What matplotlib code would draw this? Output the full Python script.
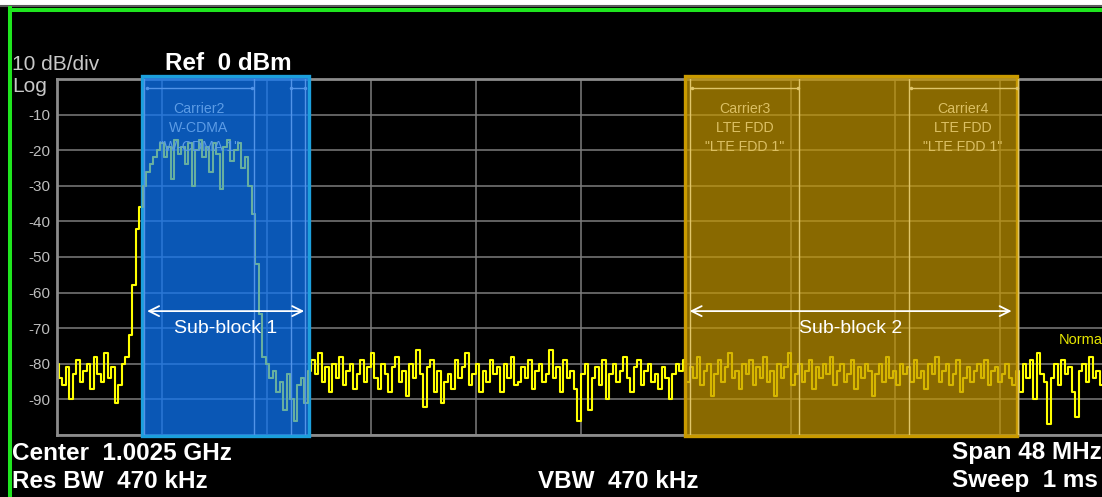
import numpy as np
import matplotlib.pyplot as plt
from matplotlib.patches import Rectangle
from matplotlib.lines import Line2D

plt.rcParams['font.family'] = ['Liberation Sans', 'DejaVu Sans']

# analyzer settings
center_mhz = 1002.5
span_mhz = 48.0
ref_level = 0
ytick_labels = ['-10', '-20', '-30', '-40', '-50', '-60', '-70', '-80', '-90']

# trace (dBm), 300 points over the span
floor_left = [-80, -84, -86, -81, -90, -83, -79, -85, -82, -80,
              -87, -78, -83, -85, -77, -84, -81, -91, -86, -80]
wcdma_rise = [-78, -72, -58, -42]
wcdma_top = [-36, -30, -26, -24, -22, -20, -18, -22, -19, -28,
             -17, -21, -19, -24, -18, -30, -20, -17, -22, -19,
             -26, -18, -21, -31, -19, -17, -23, -20, -18, -25,
             -22, -30]
wcdma_fall = [-38, -52, -66, -78]
floor_right = [-80, -84, -82, -88, -85, -93, -83, -90, -96, -86, -84, -91, -82,
               -79, -83, -77, -85, -81, -88, -80, -84, -78, -86,
               -82, -80, -87, -83, -79, -85, -81, -77, -84, -87,
               -80, -83, -88, -81, -78, -85, -82, -89, -80, -84,
               -76, -83, -92, -81, -79, -88, -82, -91, -85, -83,
               -87, -79, -84, -81, -77, -86, -83, -80, -88, -82,
               -85, -79, -83, -81, -88, -80, -84, -78, -86, -85,
               -81, -84, -79, -87, -82, -80, -85, -83, -76, -84,
               -81, -88, -79, -84, -82, -87, -96, -83, -80, -93,
               -84, -81, -86, -79, -90, -83, -80, -85, -82, -78,
               -84, -88, -81, -79, -86, -82, -80, -85, -83, -87,
               -81, -84, -90, -83, -80, -82, -79, -85, -81, -84,
               -78, -86, -82, -80, -89, -83, -79, -85, -81, -77,
               -84, -82, -87, -80, -83, -79, -86, -81, -84, -78,
               -85, -82, -89, -80, -84, -81, -77, -86, -83, -80,
               -85, -82, -79, -87, -81, -84, -80, -83, -78, -86,
               -82, -80, -85, -83, -79, -87, -81, -84, -80, -82,
               -89, -83, -80, -85, -78, -84, -82, -86, -80, -83,
               -81, -85, -79, -84, -82, -87, -80, -83, -78, -85,
               -82, -80, -86, -83, -79, -88, -84, -81, -85, -82,
               -80, -84, -79, -86, -82, -81, -85, -83, -80, -84,
               -86, -82, -88, -80, -84, -79, -90, -77, -83, -85,
               -97, -84, -80, -86, -79, -83, -81, -88, -95, -82,
               -80, -85, -78, -84, -82, -86, -81]

# carriers and sub-blocks (MHz)
carrier_names = ['Carrier2', 'Carrier3', 'Carrier4']
carrier_std = ['W-CDMA', 'LTE FDD', 'LTE FDD']
carrier_cfg = ['"W-CDMA 1"', '"LTE FDD 1"', '"LTE FDD 1"']
carrier_lo = [982.5, 1007.5, 1017.5]
carrier_hi = [987.5, 1012.5, 1022.5]
carrier1_lo, carrier1_hi = 989.2, 989.85

subblock_names = ['Sub-block 1', 'Sub-block 2']
subblock_lo = [982.4, 1007.25]
subblock_hi = [990.05, 1022.45]

W, H = 1102, 497
fig = plt.figure(figsize=(W / 100, H / 100), dpi=100, facecolor='black')


def fx(x):
    return x / W


def fy(y):
    return 1 - y / H


f_lo = center_mhz - span_mhz / 2
f_hi = center_mhz + span_mhz / 2

ax = fig.add_axes([fx(57), fy(435), fx(1105) - fx(57), fy(79) - fy(435)])
ax.set_facecolor('black')
ax.set_xlim(f_lo, f_hi)
ax.set_ylim(ref_level - 100, ref_level)
ax.set_xticks(np.linspace(f_lo, f_hi, 11))
ax.set_xticklabels([])
ax.set_yticks(np.arange(-100, 1, 10))
ax.set_yticklabels([''] + ytick_labels[::-1] + [''])
ax.tick_params(length=0, colors='#bdbdbd', labelsize=11, pad=5)
ax.grid(True, color='#7c7c7c', lw=1.1)
for s in ax.spines.values():
    s.set_color('#8c8c8c')
    s.set_linewidth(2)

trace = floor_left + wcdma_rise + wcdma_top + wcdma_fall + floor_right
freq = np.linspace(f_lo, f_hi, len(trace))
ax.plot(freq, trace, color='#ffff00', lw=1.5, drawstyle='steps-mid', zorder=2)

# sub-block boxes
box_face = [(14 / 255, 118 / 255, 245 / 255, 0.74), (197 / 255, 151 / 255, 0, 0.70)]
box_edge = ['#1c9fdc', '#c99a00']
line_col = ['#5294e8', '#e0c66a']
text_col = ['#5c9ce6', '#dcc064']
boxes = []
for i in range(2):
    r = Rectangle((subblock_lo[i], -100.2), subblock_hi[i] - subblock_lo[i], 101.0,
                  facecolor=box_face[i], edgecolor=box_edge[i], lw=2.4,
                  zorder=4, clip_on=False)
    ax.add_patch(r)
    boxes.append(r)

# trace seen through the blue box
teal, = ax.plot(freq, trace, color='#68b0a0', lw=1.4, drawstyle='steps-mid', zorder=4.5)
teal.set_clip_path(Rectangle((subblock_lo[0], -100), subblock_hi[0] - subblock_lo[0], 100,
                             transform=ax.transData))

# carrier markers
for i in range(3):
    b = 0 if i == 0 else 1
    for f in (carrier_lo[i], carrier_hi[i]):
        ax.plot([f, f], [-100, 0], color=line_col[b], lw=1.0, zorder=5)
    ax.plot([carrier_lo[i] + 0.1, carrier_hi[i] - 0.05], [-2.5, -2.5], color=line_col[b],
            lw=1.0, marker='.', ms=3, zorder=5)
    xc = (carrier_lo[i] + carrier_hi[i]) / 2
    for yy, s in zip((-8.4, -13.8, -19.1), (carrier_names[i], carrier_std[i], carrier_cfg[i])):
        ax.text(xc, yy, s, color=text_col[b], fontsize=10.2, ha='center', va='center', zorder=6)
for f in (carrier1_lo, carrier1_hi):
    ax.plot([f, f], [-100, 0], color=line_col[0], lw=1.0, zorder=5)
ax.plot([carrier1_lo, carrier1_hi], [-2.5, -2.5], color=line_col[0], lw=1.0, marker='.', ms=3, zorder=5)
ax.plot([subblock_hi[1] + 0.05] * 2, [-100, 0], color='#c8c8c8', lw=1.0, zorder=3)

# sub-block arrows
for i in range(2):
    ax.annotate('', xy=(subblock_lo[i] + 0.1, -65.2), xytext=(subblock_hi[i] - 0.1, -65.2),
                arrowprops=dict(arrowstyle='<->', color='white', lw=1.3, mutation_scale=18),
                zorder=7)
    ax.text((subblock_lo[i] + subblock_hi[i]) / 2, -70.2, subblock_names[i], color='white',
            fontsize=14, ha='center', va='center', zorder=7)

ax.text(1024.4, -73.3, 'Normal', color='#e6e600', fontsize=10.5, ha='left', va='center', zorder=6)

# header / footer text
big = dict(color='white', fontsize=17.5, fontweight='bold', va='center')
fig.text(fx(12), fy(65), '10 dB/div', color='#c8c8c8', fontsize=15, va='center')
fig.text(fx(12), fy(87), 'Log', color='#c8c8c8', fontsize=15, va='center')
fig.text(fx(165), fy(63), 'Ref  0 dBm', **big)
fig.text(fx(12), fy(453), 'Center  1.0025 GHz', **big)
fig.text(fx(12), fy(481), 'Res BW  470 kHz', **big)
fig.text(fx(538), fy(481), 'VBW  470 kHz', **big)
fig.text(fx(952), fy(453), 'Span 48 MHz', **big)
fig.text(fx(952), fy(481), 'Sweep  1 ms', **big)

# screen frame
fig.add_artist(Rectangle((0, fy(5)), 1, 1 - fy(5), transform=fig.transFigure,
                         facecolor='white', lw=0, zorder=20))
fig.add_artist(Line2D([0, 1], [fy(5.5), fy(5.5)], color='#5a5a5a', lw=1.5, zorder=21))
fig.add_artist(Line2D([fx(9.5), 1], [fy(9.5), fy(9.5)], color='#1fe61f', lw=2.9, zorder=21))
fig.add_artist(Line2D([fx(9.5), fx(9.5)], [0, fy(8)], color='#1fe61f', lw=2.9, zorder=21))

fig.savefig('out.png', dpi=100, facecolor='black')
